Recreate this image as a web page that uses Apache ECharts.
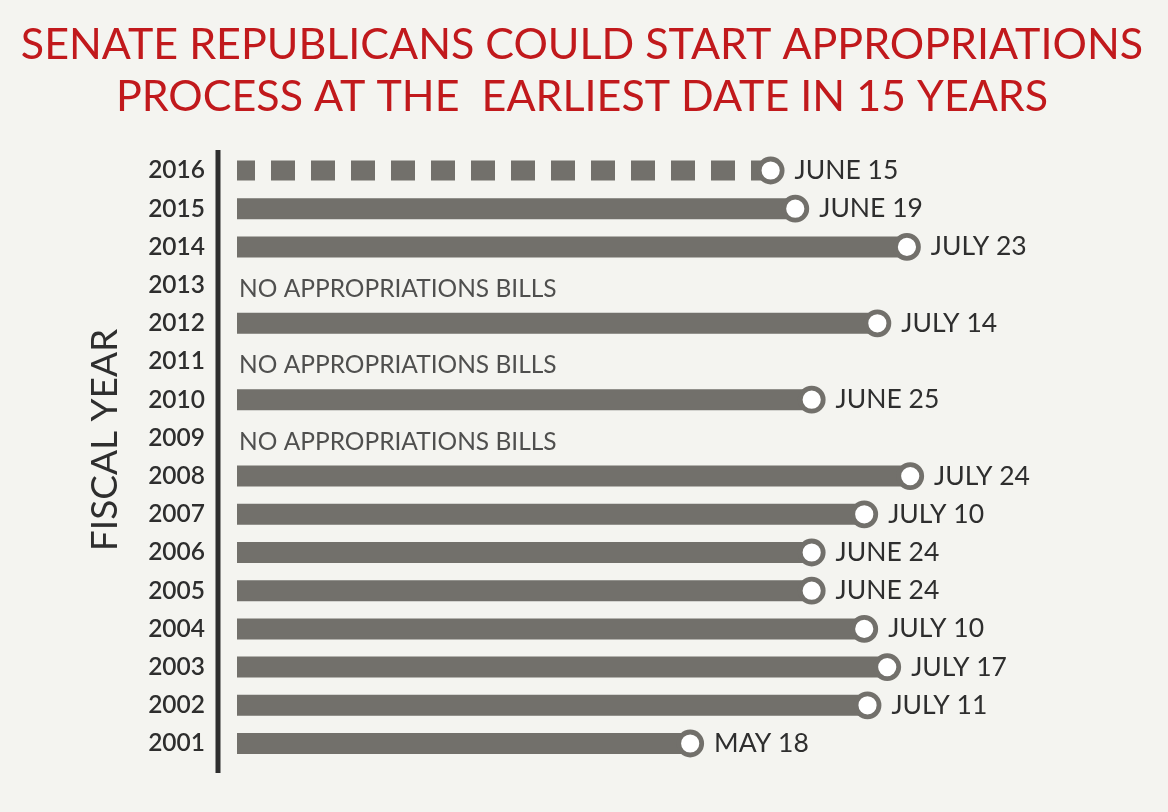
<!DOCTYPE html>
<html>
<head>
<meta charset="utf-8">
<script src="https://cdn.jsdelivr.net/npm/echarts@6/dist/echarts.min.js"></script>
<style>
  html, body { margin: 0; padding: 0; background: #f4f4f0; }
  #chart { width: 1168px; height: 812px; }
</style>
</head>
<body>
<div id="chart"></div>
<script>
// ---- Data ----
const titleLines = ['SENATE REPUBLICANS COULD START APPROPRIATIONS', 'PROCESS AT THE  EARLIEST DATE IN 15 YEARS'];
const axisTitle = 'FISCAL YEAR';
const years = ['2001','2002','2003','2004','2005','2006','2007','2008','2009','2010','2011','2012','2013','2014','2015','2016'];
// days since Jan 1 at which the Senate started (bar length), null = no bills
const days = [138, 192, 198, 191, 175, 175, 191, 205, null, 175, null, 195, null, 204, 170, 162.5];
const dateLabels = ['MAY 18','JULY 11','JULY 17','JULY 10','JUNE 24','JUNE 24','JULY 10','JULY 24','','JUNE 25','','JULY 14','','JULY 23','JUNE 19','JUNE 15'];
const projectedYears = ['2016'];
const noBillsText = 'NO APPROPRIATIONS BILLS';

// ---- Styles ----
const BAR = '#72706b';
const INK = '#2e2e2e';
const FONT = 'Lato, "Open Sans", sans-serif';

const solidBars = days.map((d, i) => (d == null || projectedYears.includes(years[i])) ? '-' : d);
const projectedLines = projectedYears.map(y => {
  const i = years.indexOf(y);
  return [[0, y], [days[i], y]];
});
const endPoints = [];
const noBills = [];
days.forEach((d, i) => {
  if (d == null) noBills.push([0, years[i]]);
  else endPoints.push({ value: [d, years[i]], label: dateLabels[i] });
});

const chart = echarts.init(document.getElementById('chart'), null, { renderer: 'canvas' });

const series = [
  {
    type: 'bar',
    data: solidBars,
    barWidth: 21,
    itemStyle: { color: BAR },
    silent: true,
    z: 2
  }
];
projectedLines.forEach(seg => {
  series.push({
    type: 'line',
    data: seg,
    symbol: 'none',
    silent: true,
    lineStyle: { color: BAR, width: 20, type: [24, 16], dashOffset: 6, cap: 'butt' },
    z: 2
  });
});
series.push({
  type: 'scatter',
  data: endPoints.map(p => p.value),
  symbol: 'circle',
  symbolSize: 23,
  itemStyle: { color: '#ffffff', borderColor: BAR, borderWidth: 4.8, opacity: 1 },
  label: {
    show: true,
    position: 'right',
    distance: 10,
    formatter: p => endPoints[p.dataIndex].label,
    color: INK,
    fontFamily: FONT,
    fontSize: 26.5,
    fontWeight: 'normal'
  },
  silent: true,
  z: 5
});
series.push({
  type: 'scatter',
  data: noBills,
  symbol: 'circle',
  symbolSize: 0.1,
  itemStyle: { color: 'rgba(0,0,0,0)' },
  label: {
    show: true,
    position: 'right',
    distance: 2,
    offset: [0, 4],
    formatter: () => noBillsText,
    color: '#262626',
    fontFamily: FONT,
    fontSize: 24.5
  },
  silent: true,
  z: 5
});

chart.setOption({
  backgroundColor: '#f4f4f0',
  animation: false,
  grid: { left: 237, top: 151.4, width: 821, height: 611.2, containLabel: false },
  xAxis: {
    type: 'value', min: 0, max: 250, show: false
  },
  yAxis: {
    type: 'category',
    data: years,
    offset: 19,
    axisLine: { show: false },
    axisTick: { show: false },
    splitLine: { show: false },
    axisLabel: {
      margin: 13,
      color: INK,
      fontFamily: FONT,
      fontSize: 24.5,
      fontWeight: 600
    }
  },
  graphic: [
    {
      type: 'text',
      x: 582, y: 45,
      style: {
        text: titleLines[0], fill: '#c1191c', font: 'normal 43px ' + FONT,
        textAlign: 'center', textVerticalAlign: 'middle'
      },
      silent: true
    },
    {
      type: 'text',
      x: 582, y: 97,
      style: {
        text: titleLines[1], fill: '#c1191c', font: 'normal 43px ' + FONT,
        textAlign: 'center', textVerticalAlign: 'middle'
      },
      silent: true
    },
    {
      type: 'rect',
      shape: { x: 215.5, y: 150, width: 5, height: 623 },
      style: { fill: '#2e2e2e' },
      silent: true
    },
    {
      type: 'text',
      x: 105.5,
      y: 440,
      rotation: Math.PI / 2,
      style: {
        text: axisTitle,
        fill: INK,
        font: 'normal 37px ' + FONT,
        textAlign: 'center',
        textVerticalAlign: 'middle'
      },
      silent: true
    }
  ],
  series: series
});
</script>
</body>
</html>
